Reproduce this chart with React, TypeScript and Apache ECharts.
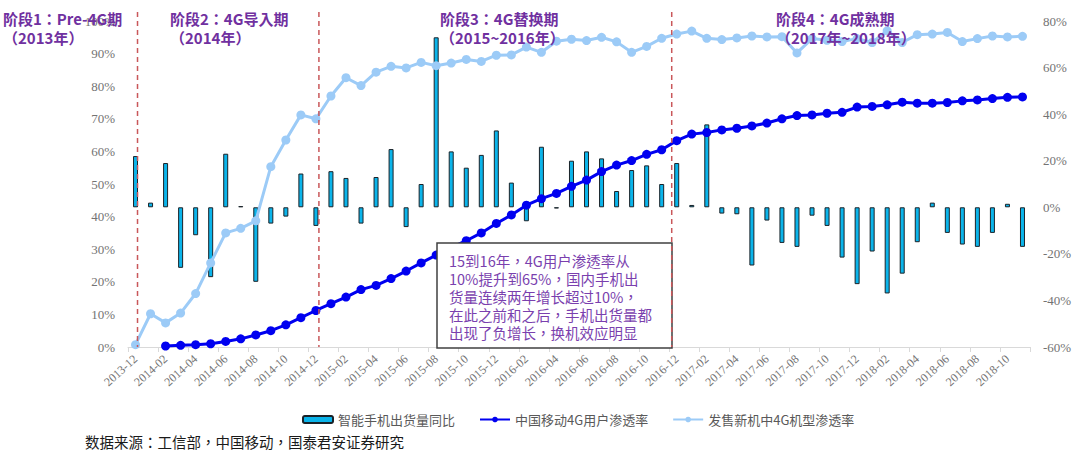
import React, { useEffect, useRef } from "react";
import * as echarts from "echarts";

const categories = [
  "2013-12",
  "2014-01", "2014-02", "2014-03", "2014-04", "2014-05", "2014-06", "2014-07", "2014-08", "2014-09", "2014-10", "2014-11", "2014-12",
  "2015-01", "2015-02", "2015-03", "2015-04", "2015-05", "2015-06", "2015-07", "2015-08", "2015-09", "2015-10", "2015-11", "2015-12",
  "2016-01", "2016-02", "2016-03", "2016-04", "2016-05", "2016-06", "2016-07", "2016-08", "2016-09", "2016-10", "2016-11", "2016-12",
  "2017-01", "2017-02", "2017-03", "2017-04", "2017-05", "2017-06", "2017-07", "2017-08", "2017-09", "2017-10", "2017-11", "2017-12",
  "2018-01", "2018-02", "2018-03", "2018-04", "2018-05", "2018-06", "2018-07", "2018-08", "2018-09", "2018-10", "2018-11",
];

// 智能手机出货量同比 (right axis, %)
const shipmentYoY = [
  22,
  2, 19, -26, -12, -30, 23, 0.5, -32, -7, -4, 14.5, -8,
  15.5, 12.6, -7, 13, 25, -8.5, 10, 73, 24, 17, 22.5, 33,
  10.6, -6, 26, -0.5, 20, 24, 21, 7, 16, 18, 10, 19,
  1, 35.6, -2.7, -3, -25, -5.7, -15.3, -17, -3.6, -8, -21.6, -33,
  -19, -37, -28.5, -15, 2, -11, -16, -17, -11, 1.5, -17,
];

// 中国移动4G用户渗透率 (left axis, %)
const cmcc4GUsers = [
  null,
  null, 0.3, 0.5, 0.7, 1, 1.7, 2.5, 3.7, 5, 6.8, 9, 11.2,
  13.3, 15.3, 17.6, 18.9, 21, 23.3, 25.8, 28.2, 30.5, 32.6, 35, 37.9,
  40.5, 43.5, 45.5, 47.1, 49.3, 51.2, 53.8, 55.8, 57.2, 59.1, 60.5, 63.3,
  65.3, 65.8, 66.6, 67.1, 67.8, 68.7, 70, 71, 71.2, 71.7, 72, 73.6,
  73.8, 74.3, 75.1, 74.8, 74.8, 75, 75.5, 75.8, 76.2, 76.6, 76.7,
];

// 发售新机中4G机型渗透率 (left axis, %)
const new4GModels = [
  0.7,
  10.2, 7.4, 10.4, 16.4, 25.8, 35, 36.4, 38.7, 55.3, 63.5, 71.2, 70,
  77, 82.6, 80.2, 84.3, 86.1, 85.6, 87.3, 86.3, 87.1, 88.2, 87.6, 89.5,
  89.6, 92, 90.4, 93.8, 94.4, 94, 95, 93.6, 90.4, 92.2, 94.7, 96,
  96.9, 94.7, 94.3, 94.8, 95.4, 95.1, 95.2, 90.2, 94.6, 94.1, 93.7, 94.6,
  93.4, 97, 93.4, 95.8, 96, 96.5, 93.7, 94.6, 95.4, 95.1, 95.3,
];

const seriesNames = ["智能手机出货量同比", "中国移动4G用户渗透率", "发售新机中4G机型渗透率"];

const stageTitles = [
  { text: "阶段1：Pre-4G期\n（2013年）", x: 3 },
  { text: "阶段2：4G导入期\n（2014年）", x: 170 },
  { text: "阶段3：4G替换期\n（2015~2016年）", x: 440 },
  { text: "阶段4：4G成熟期\n（2017年~2018年）", x: 776 },
];

const stageDividers = ["2013-12", "2014-12", "2016-12"];
const dividerOffsets = [2, 3, -5];

const noteLines = [
  "15到16年，4G用户渗透率从",
  "10%提升到65%，国内手机出",
  "货量连续两年增长超过10%，",
  "在此之前和之后，手机出货量都",
  "出现了负增长，换机效应明显",
];

const sourceText = "数据来源：工信部，中国移动，国泰君安证券研究";

const CJK = '"Noto Sans CJK SC", "Noto Sans", sans-serif';
const CJK_C = '"Noto Sans CJK TC", "Noto Sans CJK SC", sans-serif';
const SERIF = '"Liberation Serif", "DejaVu Serif", serif';

export default function App() {
  const ref = useRef<HTMLDivElement>(null);

  useEffect(() => {
    document.body.style.margin = "0";
    if (!ref.current) return;
    const chart = echarts.init(ref.current, undefined, { renderer: "svg" });

    chart.setOption({
      animation: false,
      backgroundColor: "#ffffff",
      grid: { left: 128, right: 50, top: 21, bottom: 110 },
      legend: {
        left: 297,
        top: 408,
        itemWidth: 30,
        itemHeight: 7,
        itemGap: 24,
        textStyle: { fontFamily: CJK, fontSize: 13, color: "#595959" },
        data: seriesNames,
      },
      xAxis: {
        type: "category",
        data: categories,
        boundaryGap: true,
        axisLine: { show: true, lineStyle: { color: "#d9d9d9", width: 1 } },
        axisTick: { show: true, interval: 1, length: 5, lineStyle: { color: "#d9d9d9" } },
        axisLabel: {
          interval: 1,
          rotate: 42,
          margin: 10,
          fontFamily: SERIF,
          fontSize: 12,
          color: "#737373",
        },
      },
      yAxis: [
        {
          type: "value",
          min: 0,
          max: 100,
          interval: 10,
          axisLine: { show: false },
          axisTick: { show: false },
          splitLine: { show: false },
          axisLabel: {
            formatter: "{value}%",
            margin: 13,
            fontFamily: SERIF,
            fontSize: 13,
            color: "#737373",
          },
        },
        {
          type: "value",
          min: -60,
          max: 80,
          interval: 20,
          position: "right",
          axisLine: { show: false },
          axisTick: { show: false },
          splitLine: { show: false },
          axisLabel: {
            formatter: "{value}%",
            margin: 13,
            fontFamily: SERIF,
            fontSize: 13,
            color: "#737373",
          },
        },
      ],
      series: [
        {
          name: seriesNames[0],
          type: "bar",
          yAxisIndex: 1,
          data: shipmentYoY,
          barWidth: 5,
          itemStyle: { color: "#0bb4ea", borderColor: "#1a2228", borderWidth: 1 },
          z: 2,
        },
        {
          name: seriesNames[1],
          type: "line",
          yAxisIndex: 0,
          data: cmcc4GUsers,
          connectNulls: false,
          symbol: "circle",
          symbolSize: 9,
          lineStyle: { color: "#0000f0", width: 3 },
          itemStyle: { color: "#0000f0" },
          z: 4,
        },
        {
          name: seriesNames[2],
          type: "line",
          yAxisIndex: 0,
          data: new4GModels,
          symbol: "circle",
          symbolSize: 9,
          lineStyle: { color: "#9ccbf7", width: 3 },
          itemStyle: { color: "#9ccbf7" },
          z: 3,
        },
      ],
    });

    const bottomY = chart.convertToPixel({ yAxisIndex: 0 }, 0) as number;
    const dividerGraphics = stageDividers.map((c, i) => {
      const x = (chart.convertToPixel({ xAxisIndex: 0 }, c) as number) + dividerOffsets[i];
      return {
        type: "line",
        z: 50,
        shape: { x1: x, y1: 12, x2: x, y2: bottomY },
        style: { stroke: "#c9575a", lineWidth: 1.5, lineDash: [5, 4] },
      };
    });

    const titleGraphics = stageTitles.map((t) => ({
      type: "text",
      z: 100,
      x: t.x,
      y: 9,
      style: {
        text: t.text,
        font: `bold 15px ${CJK_C}`,
        fill: "#7030a0",
        lineHeight: 19,
        textAlign: "left",
        textVerticalAlign: "top",
      },
    }));

    chart.setOption({
      graphic: [
        ...dividerGraphics,
        {
          type: "rect",
          z: 40,
          shape: { x: 437, y: 243, width: 235, height: 105 },
          style: { fill: "#ffffff", stroke: "#404040", lineWidth: 1.5 },
        },
        {
          type: "text",
          z: 60,
          x: 449,
          y: 251,
          style: {
            text: noteLines.join("\n"),
            font: `14.5px ${CJK_C}`,
            fill: "#7a3fae",
            lineHeight: 18,
            textAlign: "left",
            textVerticalAlign: "top",
          },
        },
        ...titleGraphics,
        {
          type: "text",
          z: 100,
          x: 85,
          y: 434,
          style: {
            text: sourceText,
            font: `14.5px ${CJK_C}`,
            fill: "#1a1a1a",
            textAlign: "left",
            textVerticalAlign: "top",
          },
        },
      ],
    });

    return () => {
      chart.dispose();
    };
  }, []);

  return <div ref={ref} style={{ width: 1080, height: 457 }} />;
}
